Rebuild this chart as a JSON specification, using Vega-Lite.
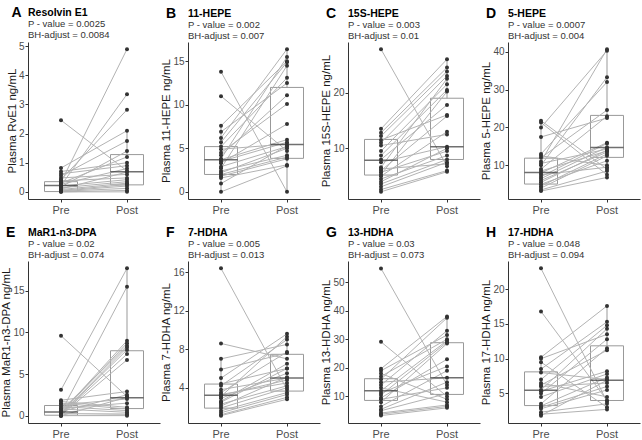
{
"$schema":"https://vega.github.io/schema/vega-lite/v6.json",
"background":"white",
"padding":{"left":0,"top":5,"right":2,"bottom":0},
"config":{
 "view":{"stroke":null},
 "font":"Liberation Sans",
 "axis":{"domainColor":"#333333","tickColor":"#333333","labelColor":"#4d4d4d","labelFont":"Liberation Sans","labelFontSize":10,"titleFont":"Liberation Sans","titleFontSize":11.5,"titleFontWeight":"normal","titleColor":"#1a1a1a","grid":false,"tickSize":3,"labelPadding":1,"titlePadding":1},
 "axisX":{"labelFontSize":11,"labelPadding":2},
 "title":{"anchor":"start","font":"Liberation Sans","fontSize":10.5,"fontWeight":"bold","color":"#000000","subtitleFont":"Liberation Sans","subtitleFontSize":9.5,"subtitleColor":"#333333","subtitlePadding":1,"subtitleLineHeight":10.5,"offset":2}
},
"datasets":{
"pts":[
{"p":"A","s":1,"Pre":2.46,"Post":0.72},{"p":"A","s":2,"Pre":0.82,"Post":2.1},{"p":"A","s":3,"Pre":0.7,"Post":1.0},{"p":"A","s":4,"Pre":0.62,"Post":0.9},{"p":"A","s":5,"Pre":0.55,"Post":1.75},{"p":"A","s":6,"Pre":0.48,"Post":0.6},{"p":"A","s":7,"Pre":0.42,"Post":2.82},{"p":"A","s":8,"Pre":0.38,"Post":0.48},{"p":"A","s":9,"Pre":0.33,"Post":4.9},{"p":"A","s":10,"Pre":0.3,"Post":1.2},{"p":"A","s":11,"Pre":0.26,"Post":0.8},{"p":"A","s":12,"Pre":0.22,"Post":3.35},{"p":"A","s":13,"Pre":0.2,"Post":0.42},{"p":"A","s":14,"Pre":0.17,"Post":1.4},{"p":"A","s":15,"Pre":0.14,"Post":0.35},{"p":"A","s":16,"Pre":0.1,"Post":0.68},{"p":"A","s":17,"Pre":0.08,"Post":0.3},{"p":"A","s":18,"Pre":0.05,"Post":0.25},{"p":"A","s":19,"Pre":0.03,"Post":0.2},{"p":"A","s":20,"Pre":0.02,"Post":0.12},{"p":"A","s":21,"Pre":0.0,"Post":0.05},{"p":"A","s":22,"Pre":0.0,"Post":0.0},
{"p":"B","s":1,"Pre":13.8,"Post":0.0},{"p":"B","s":2,"Pre":11.0,"Post":4.7},{"p":"B","s":3,"Pre":7.6,"Post":15.0},{"p":"B","s":4,"Pre":6.9,"Post":12.5},{"p":"B","s":5,"Pre":6.2,"Post":16.4},{"p":"B","s":6,"Pre":5.7,"Post":14.9},{"p":"B","s":7,"Pre":5.2,"Post":13.1},{"p":"B","s":8,"Pre":4.9,"Post":5.5},{"p":"B","s":9,"Pre":4.5,"Post":10.1},{"p":"B","s":10,"Pre":4.2,"Post":11.1},{"p":"B","s":11,"Pre":3.8,"Post":15.5},{"p":"B","s":12,"Pre":3.7,"Post":6.0},{"p":"B","s":13,"Pre":3.5,"Post":5.7},{"p":"B","s":14,"Pre":3.3,"Post":7.8},{"p":"B","s":15,"Pre":2.9,"Post":5.2},{"p":"B","s":16,"Pre":2.7,"Post":14.5},{"p":"B","s":17,"Pre":2.4,"Post":4.2},{"p":"B","s":18,"Pre":2.2,"Post":5.0},{"p":"B","s":19,"Pre":2.0,"Post":4.0},{"p":"B","s":20,"Pre":1.8,"Post":3.8},{"p":"B","s":21,"Pre":1.6,"Post":3.1},{"p":"B","s":22,"Pre":0.95,"Post":5.3},{"p":"B","s":23,"Pre":0.0,"Post":3.0},
{"p":"C","s":1,"Pre":27.8,"Post":6.8},{"p":"C","s":2,"Pre":13.5,"Post":26.0},{"p":"C","s":3,"Pre":12.8,"Post":24.5},{"p":"C","s":4,"Pre":12.2,"Post":23.8},{"p":"C","s":5,"Pre":11.5,"Post":16.0},{"p":"C","s":6,"Pre":11.0,"Post":23.0},{"p":"C","s":7,"Pre":10.5,"Post":12.5},{"p":"C","s":8,"Pre":9.5,"Post":21.5},{"p":"C","s":9,"Pre":8.7,"Post":20.5},{"p":"C","s":10,"Pre":8.0,"Post":17.8},{"p":"C","s":11,"Pre":7.5,"Post":10.3},{"p":"C","s":12,"Pre":6.6,"Post":22.5},{"p":"C","s":13,"Pre":6.0,"Post":15.8},{"p":"C","s":14,"Pre":5.7,"Post":9.5},{"p":"C","s":15,"Pre":5.3,"Post":20.2},{"p":"C","s":16,"Pre":5.0,"Post":13.0},{"p":"C","s":17,"Pre":4.5,"Post":8.7},{"p":"C","s":18,"Pre":4.0,"Post":10.0},{"p":"C","s":19,"Pre":3.6,"Post":8.0},{"p":"C","s":20,"Pre":3.1,"Post":7.5},{"p":"C","s":21,"Pre":2.6,"Post":6.0},{"p":"C","s":22,"Pre":2.2,"Post":5.8},{"p":"C","s":23,"Pre":6.3,"Post":7.2},
{"p":"D","s":1,"Pre":21.8,"Post":9.0},{"p":"D","s":2,"Pre":21.3,"Post":7.5},{"p":"D","s":3,"Pre":20.0,"Post":40.3},{"p":"D","s":4,"Pre":17.5,"Post":22.5},{"p":"D","s":5,"Pre":13.0,"Post":32.0},{"p":"D","s":6,"Pre":12.5,"Post":10.0},{"p":"D","s":7,"Pre":12.0,"Post":24.6},{"p":"D","s":8,"Pre":11.0,"Post":40.7},{"p":"D","s":9,"Pre":10.5,"Post":14.3},{"p":"D","s":10,"Pre":10.0,"Post":33.3},{"p":"D","s":11,"Pre":9.0,"Post":23.0},{"p":"D","s":12,"Pre":8.5,"Post":13.8},{"p":"D","s":13,"Pre":8.0,"Post":16.0},{"p":"D","s":14,"Pre":7.5,"Post":9.5},{"p":"D","s":15,"Pre":7.0,"Post":15.8},{"p":"D","s":16,"Pre":6.5,"Post":14.8},{"p":"D","s":17,"Pre":6.0,"Post":13.5},{"p":"D","s":18,"Pre":5.5,"Post":14.0},{"p":"D","s":19,"Pre":5.0,"Post":11.2},{"p":"D","s":20,"Pre":4.5,"Post":13.0},{"p":"D","s":21,"Pre":4.0,"Post":12.5},{"p":"D","s":22,"Pre":3.5,"Post":8.5},{"p":"D","s":23,"Pre":3.2,"Post":6.8},
{"p":"E","s":1,"Pre":9.6,"Post":2.3},{"p":"E","s":2,"Pre":3.1,"Post":17.7},{"p":"E","s":3,"Pre":1.85,"Post":2.9},{"p":"E","s":4,"Pre":1.7,"Post":1.0},{"p":"E","s":5,"Pre":1.5,"Post":0.8},{"p":"E","s":6,"Pre":1.3,"Post":2.0},{"p":"E","s":7,"Pre":1.1,"Post":0.6},{"p":"E","s":8,"Pre":0.9,"Post":1.5},{"p":"E","s":9,"Pre":0.8,"Post":0.4},{"p":"E","s":10,"Pre":0.6,"Post":8.4},{"p":"E","s":11,"Pre":0.5,"Post":2.5},{"p":"E","s":12,"Pre":0.4,"Post":15.5},{"p":"E","s":13,"Pre":0.35,"Post":9.0},{"p":"E","s":14,"Pre":0.3,"Post":8.7},{"p":"E","s":15,"Pre":0.25,"Post":0.2},{"p":"E","s":16,"Pre":0.2,"Post":8.2},{"p":"E","s":17,"Pre":0.15,"Post":7.9},{"p":"E","s":18,"Pre":0.1,"Post":7.4},{"p":"E","s":19,"Pre":0.05,"Post":6.7},{"p":"E","s":20,"Pre":0.0,"Post":2.2},{"p":"E","s":21,"Pre":0.0,"Post":0.1},{"p":"E","s":22,"Pre":0.0,"Post":0.0},
{"p":"F","s":1,"Pre":16.4,"Post":3.8},{"p":"F","s":2,"Pre":8.6,"Post":7.0},{"p":"F","s":3,"Pre":7.0,"Post":8.5},{"p":"F","s":4,"Pre":5.9,"Post":7.6},{"p":"F","s":5,"Pre":5.0,"Post":9.6},{"p":"F","s":6,"Pre":4.4,"Post":6.0},{"p":"F","s":7,"Pre":4.2,"Post":9.0},{"p":"F","s":8,"Pre":3.8,"Post":5.0},{"p":"F","s":9,"Pre":3.5,"Post":7.7},{"p":"F","s":10,"Pre":3.3,"Post":4.5},{"p":"F","s":11,"Pre":3.1,"Post":9.3},{"p":"F","s":12,"Pre":2.9,"Post":5.5},{"p":"F","s":13,"Pre":2.6,"Post":6.5},{"p":"F","s":14,"Pre":2.3,"Post":4.2},{"p":"F","s":15,"Pre":2.1,"Post":5.1},{"p":"F","s":16,"Pre":1.9,"Post":4.0},{"p":"F","s":17,"Pre":1.6,"Post":3.5},{"p":"F","s":18,"Pre":1.4,"Post":3.3},{"p":"F","s":19,"Pre":1.2,"Post":3.0},{"p":"F","s":20,"Pre":1.1,"Post":2.8},{"p":"F","s":21,"Pre":2.5,"Post":6.0},{"p":"F","s":22,"Pre":3.2,"Post":4.8},
{"p":"G","s":1,"Pre":54.8,"Post":14.0},{"p":"G","s":2,"Pre":29.1,"Post":10.0},{"p":"G","s":3,"Pre":19.7,"Post":38.0},{"p":"G","s":4,"Pre":19.0,"Post":31.5},{"p":"G","s":5,"Pre":18.0,"Post":9.0},{"p":"G","s":6,"Pre":17.0,"Post":30.0},{"p":"G","s":7,"Pre":16.0,"Post":37.5},{"p":"G","s":8,"Pre":15.0,"Post":16.5},{"p":"G","s":9,"Pre":14.0,"Post":33.0},{"p":"G","s":10,"Pre":13.0,"Post":8.0},{"p":"G","s":11,"Pre":12.0,"Post":29.5},{"p":"G","s":12,"Pre":11.2,"Post":20.5},{"p":"G","s":13,"Pre":10.5,"Post":29.0},{"p":"G","s":14,"Pre":9.5,"Post":23.0},{"p":"G","s":15,"Pre":9.0,"Post":13.0},{"p":"G","s":16,"Pre":8.0,"Post":28.5},{"p":"G","s":17,"Pre":6.5,"Post":19.0},{"p":"G","s":18,"Pre":5.5,"Post":15.0},{"p":"G","s":19,"Pre":5.0,"Post":11.0},{"p":"G","s":20,"Pre":4.2,"Post":7.0},{"p":"G","s":21,"Pre":3.8,"Post":6.5},{"p":"G","s":22,"Pre":3.3,"Post":6.0},
{"p":"H","s":1,"Pre":23.0,"Post":3.8},{"p":"H","s":2,"Pre":16.8,"Post":4.0},{"p":"H","s":3,"Pre":10.2,"Post":17.6},{"p":"H","s":4,"Pre":10.0,"Post":13.5},{"p":"H","s":5,"Pre":9.5,"Post":3.0},{"p":"H","s":6,"Pre":8.5,"Post":15.3},{"p":"H","s":7,"Pre":8.0,"Post":7.0},{"p":"H","s":8,"Pre":7.0,"Post":14.8},{"p":"H","s":9,"Pre":6.5,"Post":4.5},{"p":"H","s":10,"Pre":6.2,"Post":11.2},{"p":"H","s":11,"Pre":6.0,"Post":6.5},{"p":"H","s":12,"Pre":5.5,"Post":14.3},{"p":"H","s":13,"Pre":5.3,"Post":8.2},{"p":"H","s":14,"Pre":5.0,"Post":12.8},{"p":"H","s":15,"Pre":4.5,"Post":7.8},{"p":"H","s":16,"Pre":3.5,"Post":11.5},{"p":"H","s":17,"Pre":3.2,"Post":7.3},{"p":"H","s":18,"Pre":3.0,"Post":6.0},{"p":"H","s":19,"Pre":2.8,"Post":5.5},{"p":"H","s":20,"Pre":2.3,"Post":3.5},{"p":"H","s":21,"Pre":2.0,"Post":2.7},{"p":"H","s":22,"Pre":1.8,"Post":6.9}
],
"box":[
{"p":"A","key":"Pre","lo":0,"q1":0.01,"med":0.22,"q3":0.35,"hi":0.82},{"p":"A","key":"Post","lo":0,"q1":0.24,"med":0.69,"q3":1.28,"hi":2.1},
{"p":"B","key":"Pre","lo":0,"q1":2.0,"med":3.7,"q3":5.2,"hi":7.6},{"p":"B","key":"Post","lo":0,"q1":3.85,"med":5.45,"q3":12.0,"hi":16.4},
{"p":"C","key":"Pre","lo":2.2,"q1":5.2,"med":7.85,"q3":11.6,"hi":13.5},{"p":"C","key":"Post","lo":5.8,"q1":8.0,"med":10.3,"q3":19.0,"hi":26.0},
{"p":"D","key":"Pre","lo":3.2,"q1":5.05,"med":8.1,"q3":11.9,"hi":21.8},{"p":"D","key":"Post","lo":6.8,"q1":12.1,"med":14.7,"q3":23.2,"hi":40.7},
{"p":"E","key":"Pre","lo":0,"q1":0.05,"med":0.45,"q3":1.22,"hi":1.85},{"p":"E","key":"Post","lo":0,"q1":0.85,"med":2.15,"q3":7.8,"hi":17.7},
{"p":"F","key":"Pre","lo":1.1,"q1":1.88,"med":3.22,"q3":4.38,"hi":7.0},{"p":"F","key":"Post","lo":2.8,"q1":3.65,"med":5.0,"q3":7.47,"hi":9.6},
{"p":"G","key":"Pre","lo":3.3,"q1":8.6,"med":12.0,"q3":16.2,"hi":19.7},{"p":"G","key":"Post","lo":6.0,"q1":10.7,"med":16.5,"q3":28.8,"hi":38.0},
{"p":"H","key":"Pre","lo":1.8,"q1":3.25,"med":5.44,"q3":8.1,"hi":10.2},{"p":"H","key":"Post","lo":2.7,"q1":3.98,"med":6.9,"q3":11.85,"hi":17.6}
]
},
"columns":4,
"spacing":{"row":10,"column":0},
"resolve":{"scale":{"x":"independent","y":"independent"}},
"concat":[
{"title":{"text":"A","fontSize":14,"frame":"bounds","offset":-12,"dx":5},"vconcat":[{"title":{"text":"Resolvin E1","subtitle":["P - value = 0.0025","BH-adjust = 0.0084"],"frame":"group"},"width":132,"height":157,
"layer":[
{"data":{"name":"box"},"transform":[{"filter":"datum.p==='A'"}],"mark":{"type":"rule","color":"#999999"},"encoding":{"x":{"field":"key","type":"nominal","sort":["Pre","Post"],"scale":{"domain":["Pre","Post"],"paddingInner":0,"paddingOuter":0},"axis":{"title":null,"labelAngle":0}},"y":{"field":"lo","type":"quantitative","scale":{"domain":[-0.245,5.145],"nice":false,"zero":false},"axis":{"title":"Plasma RvE1 ng/mL","values":[0,1,2,3,4,5]}},"y2":{"field":"hi"}}},
{"data":{"name":"box"},"transform":[{"filter":"datum.p==='A'"}],"mark":{"type":"bar","width":{"band":0.5},"fill":"white","stroke":"#999999","strokeWidth":1},"encoding":{"x":{"field":"key","type":"nominal","sort":["Pre","Post"]},"y":{"field":"q1","type":"quantitative","axis":{"title":"Plasma RvE1 ng/mL","values":[0,1,2,3,4,5]}},"y2":{"field":"q3"}}},
{"data":{"name":"pts"},"transform":[{"filter":"datum.p==='A'"},{"fold":["Pre","Post"]}],"mark":{"type":"line","color":"#b3b3b3","strokeWidth":1},"encoding":{"x":{"field":"key","type":"nominal","sort":["Pre","Post"]},"y":{"field":"value","type":"quantitative","axis":{"title":"Plasma RvE1 ng/mL","values":[0,1,2,3,4,5]}},"detail":{"field":"s","type":"nominal"}}},
{"data":{"name":"box"},"transform":[{"filter":"datum.p==='A'"}],"mark":{"type":"tick","color":"#333333","thickness":1.5,"size":33},"encoding":{"x":{"field":"key","type":"nominal","sort":["Pre","Post"]},"y":{"field":"med","type":"quantitative","axis":{"title":"Plasma RvE1 ng/mL","values":[0,1,2,3,4,5]}}}},
{"data":{"name":"pts"},"transform":[{"filter":"datum.p==='A'"},{"fold":["Pre","Post"]}],"mark":{"type":"circle","color":"#333333","size":16,"opacity":1},"encoding":{"x":{"field":"key","type":"nominal","sort":["Pre","Post"]},"y":{"field":"value","type":"quantitative","axis":{"title":"Plasma RvE1 ng/mL","values":[0,1,2,3,4,5]}}}}
]}]},
{"title":{"text":"B","fontSize":14,"frame":"bounds","offset":-12,"dx":5},"vconcat":[{"title":{"text":"11-HEPE","subtitle":["P - value = 0.002","BH-adjust = 0.007"],"frame":"group"},"width":132,"height":157,
"layer":[
{"data":{"name":"box"},"transform":[{"filter":"datum.p==='B'"}],"mark":{"type":"rule","color":"#999999"},"encoding":{"x":{"field":"key","type":"nominal","sort":["Pre","Post"],"scale":{"domain":["Pre","Post"],"paddingInner":0,"paddingOuter":0},"axis":{"title":null,"labelAngle":0}},"y":{"field":"lo","type":"quantitative","scale":{"domain":[-0.82,17.22],"nice":false,"zero":false},"axis":{"title":"Plasma 11-HEPE ng/mL","values":[0,5,10,15]}},"y2":{"field":"hi"}}},
{"data":{"name":"box"},"transform":[{"filter":"datum.p==='B'"}],"mark":{"type":"bar","width":{"band":0.5},"fill":"white","stroke":"#999999","strokeWidth":1},"encoding":{"x":{"field":"key","type":"nominal","sort":["Pre","Post"]},"y":{"field":"q1","type":"quantitative","axis":{"title":"Plasma 11-HEPE ng/mL","values":[0,5,10,15]}},"y2":{"field":"q3"}}},
{"data":{"name":"pts"},"transform":[{"filter":"datum.p==='B'"},{"fold":["Pre","Post"]}],"mark":{"type":"line","color":"#b3b3b3","strokeWidth":1},"encoding":{"x":{"field":"key","type":"nominal","sort":["Pre","Post"]},"y":{"field":"value","type":"quantitative","axis":{"title":"Plasma 11-HEPE ng/mL","values":[0,5,10,15]}},"detail":{"field":"s","type":"nominal"}}},
{"data":{"name":"box"},"transform":[{"filter":"datum.p==='B'"}],"mark":{"type":"tick","color":"#333333","thickness":1.5,"size":33},"encoding":{"x":{"field":"key","type":"nominal","sort":["Pre","Post"]},"y":{"field":"med","type":"quantitative","axis":{"title":"Plasma 11-HEPE ng/mL","values":[0,5,10,15]}}}},
{"data":{"name":"pts"},"transform":[{"filter":"datum.p==='B'"},{"fold":["Pre","Post"]}],"mark":{"type":"circle","color":"#333333","size":16,"opacity":1},"encoding":{"x":{"field":"key","type":"nominal","sort":["Pre","Post"]},"y":{"field":"value","type":"quantitative","axis":{"title":"Plasma 11-HEPE ng/mL","values":[0,5,10,15]}}}}
]}]},
{"title":{"text":"C","fontSize":14,"frame":"bounds","offset":-12,"dx":5},"vconcat":[{"title":{"text":"15S-HEPE","subtitle":["P - value = 0.003","BH-adjust = 0.01"],"frame":"group"},"width":132,"height":157,
"layer":[
{"data":{"name":"box"},"transform":[{"filter":"datum.p==='C'"}],"mark":{"type":"rule","color":"#999999"},"encoding":{"x":{"field":"key","type":"nominal","sort":["Pre","Post"],"scale":{"domain":["Pre","Post"],"paddingInner":0,"paddingOuter":0},"axis":{"title":null,"labelAngle":0}},"y":{"field":"lo","type":"quantitative","scale":{"domain":[0.9,29.1],"nice":false,"zero":false},"axis":{"title":"Plasma 15S-HEPE ng/mL","values":[10,20]}},"y2":{"field":"hi"}}},
{"data":{"name":"box"},"transform":[{"filter":"datum.p==='C'"}],"mark":{"type":"bar","width":{"band":0.5},"fill":"white","stroke":"#999999","strokeWidth":1},"encoding":{"x":{"field":"key","type":"nominal","sort":["Pre","Post"]},"y":{"field":"q1","type":"quantitative","axis":{"title":"Plasma 15S-HEPE ng/mL","values":[10,20]}},"y2":{"field":"q3"}}},
{"data":{"name":"pts"},"transform":[{"filter":"datum.p==='C'"},{"fold":["Pre","Post"]}],"mark":{"type":"line","color":"#b3b3b3","strokeWidth":1},"encoding":{"x":{"field":"key","type":"nominal","sort":["Pre","Post"]},"y":{"field":"value","type":"quantitative","axis":{"title":"Plasma 15S-HEPE ng/mL","values":[10,20]}},"detail":{"field":"s","type":"nominal"}}},
{"data":{"name":"box"},"transform":[{"filter":"datum.p==='C'"}],"mark":{"type":"tick","color":"#333333","thickness":1.5,"size":33},"encoding":{"x":{"field":"key","type":"nominal","sort":["Pre","Post"]},"y":{"field":"med","type":"quantitative","axis":{"title":"Plasma 15S-HEPE ng/mL","values":[10,20]}}}},
{"data":{"name":"pts"},"transform":[{"filter":"datum.p==='C'"},{"fold":["Pre","Post"]}],"mark":{"type":"circle","color":"#333333","size":16,"opacity":1},"encoding":{"x":{"field":"key","type":"nominal","sort":["Pre","Post"]},"y":{"field":"value","type":"quantitative","axis":{"title":"Plasma 15S-HEPE ng/mL","values":[10,20]}}}}
]}]},
{"title":{"text":"D","fontSize":14,"frame":"bounds","offset":-12,"dx":5},"vconcat":[{"title":{"text":"5-HEPE","subtitle":["P - value = 0.0007","BH-adjust = 0.004"],"frame":"group"},"width":132,"height":157,
"layer":[
{"data":{"name":"box"},"transform":[{"filter":"datum.p==='D'"}],"mark":{"type":"rule","color":"#999999"},"encoding":{"x":{"field":"key","type":"nominal","sort":["Pre","Post"],"scale":{"domain":["Pre","Post"],"paddingInner":0,"paddingOuter":0},"axis":{"title":null,"labelAngle":0}},"y":{"field":"lo","type":"quantitative","scale":{"domain":[1.1,42.6],"nice":false,"zero":false},"axis":{"title":"Plasma 5-HEPE ng/mL","values":[10,20,30,40]}},"y2":{"field":"hi"}}},
{"data":{"name":"box"},"transform":[{"filter":"datum.p==='D'"}],"mark":{"type":"bar","width":{"band":0.5},"fill":"white","stroke":"#999999","strokeWidth":1},"encoding":{"x":{"field":"key","type":"nominal","sort":["Pre","Post"]},"y":{"field":"q1","type":"quantitative","axis":{"title":"Plasma 5-HEPE ng/mL","values":[10,20,30,40]}},"y2":{"field":"q3"}}},
{"data":{"name":"pts"},"transform":[{"filter":"datum.p==='D'"},{"fold":["Pre","Post"]}],"mark":{"type":"line","color":"#b3b3b3","strokeWidth":1},"encoding":{"x":{"field":"key","type":"nominal","sort":["Pre","Post"]},"y":{"field":"value","type":"quantitative","axis":{"title":"Plasma 5-HEPE ng/mL","values":[10,20,30,40]}},"detail":{"field":"s","type":"nominal"}}},
{"data":{"name":"box"},"transform":[{"filter":"datum.p==='D'"}],"mark":{"type":"tick","color":"#333333","thickness":1.5,"size":33},"encoding":{"x":{"field":"key","type":"nominal","sort":["Pre","Post"]},"y":{"field":"med","type":"quantitative","axis":{"title":"Plasma 5-HEPE ng/mL","values":[10,20,30,40]}}}},
{"data":{"name":"pts"},"transform":[{"filter":"datum.p==='D'"},{"fold":["Pre","Post"]}],"mark":{"type":"circle","color":"#333333","size":16,"opacity":1},"encoding":{"x":{"field":"key","type":"nominal","sort":["Pre","Post"]},"y":{"field":"value","type":"quantitative","axis":{"title":"Plasma 5-HEPE ng/mL","values":[10,20,30,40]}}}}
]}]},
{"title":{"text":"E","fontSize":14,"frame":"bounds","offset":-12,"dx":5},"vconcat":[{"title":{"text":"MaR1-n3-DPA","subtitle":["P - value = 0.02","BH-adjust = 0.074"],"frame":"group"},"width":132,"height":162,
"layer":[
{"data":{"name":"box"},"transform":[{"filter":"datum.p==='E'"}],"mark":{"type":"rule","color":"#999999"},"encoding":{"x":{"field":"key","type":"nominal","sort":["Pre","Post"],"scale":{"domain":["Pre","Post"],"paddingInner":0,"paddingOuter":0},"axis":{"title":null,"labelAngle":0}},"y":{"field":"lo","type":"quantitative","scale":{"domain":[-0.885,18.585],"nice":false,"zero":false},"axis":{"title":"Plasma MaR1-n3-DPA ng/mL","values":[0,5,10,15]}},"y2":{"field":"hi"}}},
{"data":{"name":"box"},"transform":[{"filter":"datum.p==='E'"}],"mark":{"type":"bar","width":{"band":0.5},"fill":"white","stroke":"#999999","strokeWidth":1},"encoding":{"x":{"field":"key","type":"nominal","sort":["Pre","Post"]},"y":{"field":"q1","type":"quantitative","axis":{"title":"Plasma MaR1-n3-DPA ng/mL","values":[0,5,10,15]}},"y2":{"field":"q3"}}},
{"data":{"name":"pts"},"transform":[{"filter":"datum.p==='E'"},{"fold":["Pre","Post"]}],"mark":{"type":"line","color":"#b3b3b3","strokeWidth":1},"encoding":{"x":{"field":"key","type":"nominal","sort":["Pre","Post"]},"y":{"field":"value","type":"quantitative","axis":{"title":"Plasma MaR1-n3-DPA ng/mL","values":[0,5,10,15]}},"detail":{"field":"s","type":"nominal"}}},
{"data":{"name":"box"},"transform":[{"filter":"datum.p==='E'"}],"mark":{"type":"tick","color":"#333333","thickness":1.5,"size":33},"encoding":{"x":{"field":"key","type":"nominal","sort":["Pre","Post"]},"y":{"field":"med","type":"quantitative","axis":{"title":"Plasma MaR1-n3-DPA ng/mL","values":[0,5,10,15]}}}},
{"data":{"name":"pts"},"transform":[{"filter":"datum.p==='E'"},{"fold":["Pre","Post"]}],"mark":{"type":"circle","color":"#333333","size":16,"opacity":1},"encoding":{"x":{"field":"key","type":"nominal","sort":["Pre","Post"]},"y":{"field":"value","type":"quantitative","axis":{"title":"Plasma MaR1-n3-DPA ng/mL","values":[0,5,10,15]}}}}
]}]},
{"title":{"text":"F","fontSize":14,"frame":"bounds","offset":-12,"dx":5},"vconcat":[{"title":{"text":"7-HDHA","subtitle":["P - value = 0.005","BH-adjust = 0.013"],"frame":"group"},"width":132,"height":162,
"layer":[
{"data":{"name":"box"},"transform":[{"filter":"datum.p==='F'"}],"mark":{"type":"rule","color":"#999999"},"encoding":{"x":{"field":"key","type":"nominal","sort":["Pre","Post"],"scale":{"domain":["Pre","Post"],"paddingInner":0,"paddingOuter":0},"axis":{"title":null,"labelAngle":0}},"y":{"field":"lo","type":"quantitative","scale":{"domain":[0.335,17.165],"nice":false,"zero":false},"axis":{"title":"Plasma 7-HDHA ng/mL","values":[4,8,12,16]}},"y2":{"field":"hi"}}},
{"data":{"name":"box"},"transform":[{"filter":"datum.p==='F'"}],"mark":{"type":"bar","width":{"band":0.5},"fill":"white","stroke":"#999999","strokeWidth":1},"encoding":{"x":{"field":"key","type":"nominal","sort":["Pre","Post"]},"y":{"field":"q1","type":"quantitative","axis":{"title":"Plasma 7-HDHA ng/mL","values":[4,8,12,16]}},"y2":{"field":"q3"}}},
{"data":{"name":"pts"},"transform":[{"filter":"datum.p==='F'"},{"fold":["Pre","Post"]}],"mark":{"type":"line","color":"#b3b3b3","strokeWidth":1},"encoding":{"x":{"field":"key","type":"nominal","sort":["Pre","Post"]},"y":{"field":"value","type":"quantitative","axis":{"title":"Plasma 7-HDHA ng/mL","values":[4,8,12,16]}},"detail":{"field":"s","type":"nominal"}}},
{"data":{"name":"box"},"transform":[{"filter":"datum.p==='F'"}],"mark":{"type":"tick","color":"#333333","thickness":1.5,"size":33},"encoding":{"x":{"field":"key","type":"nominal","sort":["Pre","Post"]},"y":{"field":"med","type":"quantitative","axis":{"title":"Plasma 7-HDHA ng/mL","values":[4,8,12,16]}}}},
{"data":{"name":"pts"},"transform":[{"filter":"datum.p==='F'"},{"fold":["Pre","Post"]}],"mark":{"type":"circle","color":"#333333","size":16,"opacity":1},"encoding":{"x":{"field":"key","type":"nominal","sort":["Pre","Post"]},"y":{"field":"value","type":"quantitative","axis":{"title":"Plasma 7-HDHA ng/mL","values":[4,8,12,16]}}}}
]}]},
{"title":{"text":"G","fontSize":14,"frame":"bounds","offset":-12,"dx":5},"vconcat":[{"title":{"text":"13-HDHA","subtitle":["P - value = 0.03","BH-adjust = 0.073"],"frame":"group"},"width":132,"height":162,
"layer":[
{"data":{"name":"box"},"transform":[{"filter":"datum.p==='G'"}],"mark":{"type":"rule","color":"#999999"},"encoding":{"x":{"field":"key","type":"nominal","sort":["Pre","Post"],"scale":{"domain":["Pre","Post"],"paddingInner":0,"paddingOuter":0},"axis":{"title":null,"labelAngle":0}},"y":{"field":"lo","type":"quantitative","scale":{"domain":[0.7,57.4],"nice":false,"zero":false},"axis":{"title":"Plasma 13-HDHA ng/mL","values":[10,20,30,40,50]}},"y2":{"field":"hi"}}},
{"data":{"name":"box"},"transform":[{"filter":"datum.p==='G'"}],"mark":{"type":"bar","width":{"band":0.5},"fill":"white","stroke":"#999999","strokeWidth":1},"encoding":{"x":{"field":"key","type":"nominal","sort":["Pre","Post"]},"y":{"field":"q1","type":"quantitative","axis":{"title":"Plasma 13-HDHA ng/mL","values":[10,20,30,40,50]}},"y2":{"field":"q3"}}},
{"data":{"name":"pts"},"transform":[{"filter":"datum.p==='G'"},{"fold":["Pre","Post"]}],"mark":{"type":"line","color":"#b3b3b3","strokeWidth":1},"encoding":{"x":{"field":"key","type":"nominal","sort":["Pre","Post"]},"y":{"field":"value","type":"quantitative","axis":{"title":"Plasma 13-HDHA ng/mL","values":[10,20,30,40,50]}},"detail":{"field":"s","type":"nominal"}}},
{"data":{"name":"box"},"transform":[{"filter":"datum.p==='G'"}],"mark":{"type":"tick","color":"#333333","thickness":1.5,"size":33},"encoding":{"x":{"field":"key","type":"nominal","sort":["Pre","Post"]},"y":{"field":"med","type":"quantitative","axis":{"title":"Plasma 13-HDHA ng/mL","values":[10,20,30,40,50]}}}},
{"data":{"name":"pts"},"transform":[{"filter":"datum.p==='G'"},{"fold":["Pre","Post"]}],"mark":{"type":"circle","color":"#333333","size":16,"opacity":1},"encoding":{"x":{"field":"key","type":"nominal","sort":["Pre","Post"]},"y":{"field":"value","type":"quantitative","axis":{"title":"Plasma 13-HDHA ng/mL","values":[10,20,30,40,50]}}}}
]}]},
{"title":{"text":"H","fontSize":14,"frame":"bounds","offset":-12,"dx":5},"vconcat":[{"title":{"text":"17-HDHA","subtitle":["P - value = 0.048","BH-adjust = 0.094"],"frame":"group"},"width":132,"height":162,
"layer":[
{"data":{"name":"box"},"transform":[{"filter":"datum.p==='H'"}],"mark":{"type":"rule","color":"#999999"},"encoding":{"x":{"field":"key","type":"nominal","sort":["Pre","Post"],"scale":{"domain":["Pre","Post"],"paddingInner":0,"paddingOuter":0},"axis":{"title":null,"labelAngle":0}},"y":{"field":"lo","type":"quantitative","scale":{"domain":[0.74,24.06],"nice":false,"zero":false},"axis":{"title":"Plasma 17-HDHA ng/mL","values":[5,10,15,20]}},"y2":{"field":"hi"}}},
{"data":{"name":"box"},"transform":[{"filter":"datum.p==='H'"}],"mark":{"type":"bar","width":{"band":0.5},"fill":"white","stroke":"#999999","strokeWidth":1},"encoding":{"x":{"field":"key","type":"nominal","sort":["Pre","Post"]},"y":{"field":"q1","type":"quantitative","axis":{"title":"Plasma 17-HDHA ng/mL","values":[5,10,15,20]}},"y2":{"field":"q3"}}},
{"data":{"name":"pts"},"transform":[{"filter":"datum.p==='H'"},{"fold":["Pre","Post"]}],"mark":{"type":"line","color":"#b3b3b3","strokeWidth":1},"encoding":{"x":{"field":"key","type":"nominal","sort":["Pre","Post"]},"y":{"field":"value","type":"quantitative","axis":{"title":"Plasma 17-HDHA ng/mL","values":[5,10,15,20]}},"detail":{"field":"s","type":"nominal"}}},
{"data":{"name":"box"},"transform":[{"filter":"datum.p==='H'"}],"mark":{"type":"tick","color":"#333333","thickness":1.5,"size":33},"encoding":{"x":{"field":"key","type":"nominal","sort":["Pre","Post"]},"y":{"field":"med","type":"quantitative","axis":{"title":"Plasma 17-HDHA ng/mL","values":[5,10,15,20]}}}},
{"data":{"name":"pts"},"transform":[{"filter":"datum.p==='H'"},{"fold":["Pre","Post"]}],"mark":{"type":"circle","color":"#333333","size":16,"opacity":1},"encoding":{"x":{"field":"key","type":"nominal","sort":["Pre","Post"]},"y":{"field":"value","type":"quantitative","axis":{"title":"Plasma 17-HDHA ng/mL","values":[5,10,15,20]}}}}
]}]}
]
}
